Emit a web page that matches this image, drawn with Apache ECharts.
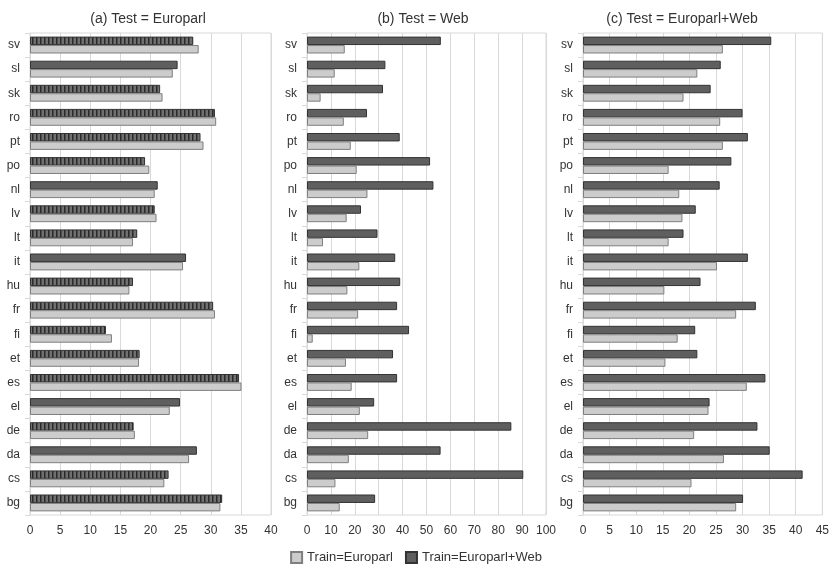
<!DOCTYPE html>
<html>
<head>
<meta charset="utf-8">
<script src="https://cdn.jsdelivr.net/npm/echarts@6/dist/echarts.min.js"></script>
<style>
  html, body { margin: 0; padding: 0; background: #fff; }
  #chart { width: 832px; height: 571px; }
</style>
</head>
<body>
<div id="chart"></div>
<script>
// Languages, listed bottom to top
var languages = ['bg','cs','da','de','el','es','et','fi','fr','hu','it','lt','lv','nl','po','pt','ro','sk','sl','sv'];

var seriesNames = ['Train=Europarl', 'Train=Europarl+Web'];
var panelTitles = ['(a) Test = Europarl', '(b) Test = Web', '(c) Test = Europarl+Web'];

// (a) Test = Europarl
var europarlTrainEuroparl = [31.6, 22.3, 26.4, 17.4, 23.2, 35.1, 18.1, 13.6, 30.7, 16.5, 25.4, 17.1, 21.0, 20.7, 19.8, 28.8, 30.9, 22.0, 23.7, 28.0];
var europarlTrainBoth     = [31.9, 23.0, 27.7, 17.2, 24.9, 34.7, 18.2, 12.6, 30.4, 17.1, 25.9, 17.8, 20.7, 21.2, 19.1, 28.3, 30.7, 21.6, 24.5, 27.1];
// hatched bars in panel (a): 1 = hatched, 0 = plain
var europarlHatched       = [1, 1, 0, 1, 0, 1, 1, 1, 1, 1, 0, 1, 1, 0, 1, 1, 1, 1, 0, 1];

// (b) Test = Web
var webTrainEuroparl = [13.7, 11.9, 17.5, 25.6, 22.1, 18.7, 16.3, 2.4, 21.4, 16.9, 21.9, 6.7, 16.6, 25.3, 20.8, 18.3, 15.4, 5.7, 11.6, 15.8];
var webTrainBoth     = [28.5, 90.5, 55.9, 85.5, 28.1, 37.7, 36.0, 42.7, 37.7, 39.0, 36.9, 29.5, 22.6, 52.9, 51.5, 38.8, 25.1, 31.8, 32.8, 56.0];

// (c) Test = Europarl+Web
var bothTrainEuroparl = [28.8, 20.4, 26.5, 20.9, 23.6, 30.8, 15.5, 17.8, 28.8, 15.3, 25.2, 16.1, 18.7, 18.1, 16.1, 26.3, 25.8, 18.9, 21.5, 26.3];
var bothTrainBoth     = [30.1, 41.3, 35.1, 32.8, 23.8, 34.3, 21.5, 21.1, 32.5, 22.1, 31.0, 18.9, 21.2, 25.7, 27.9, 31.0, 30.0, 24.0, 25.9, 35.4];

// x-axis ranges per panel
var axisMax      = [40, 100, 45];
var axisInterval = [5, 10, 5];

var FONT = 'Liberation Sans, Arial, sans-serif';
var TEXT = '#333333';
var GRIDLINE = '#d9d9d9';

var lightStyle = { color: '#cccccc', borderColor: '#7f7f7f', borderWidth: 1 };
var darkStyle  = { color: '#5f5f5f', borderColor: '#333333', borderWidth: 1 };

// vertical-stripe fill used for the hatched bars
function makeStripes() {
  var c = document.createElement('canvas');
  c.width = 4; c.height = 4;
  var g = c.getContext('2d');
  g.fillStyle = '#707070';
  g.fillRect(0, 0, 4, 4);
  g.fillStyle = '#2a2a2a';
  g.fillRect(0, 0, 1.5, 4);
  return c;
}
var stripeFill = { image: makeStripes(), repeat: 'repeat' };

var grids = [
  { left: 30,  width: 241, top: 33, height: 482, show: true, borderColor: GRIDLINE, borderWidth: 1 },
  { left: 307, width: 239, top: 33, height: 482, show: true, borderColor: GRIDLINE, borderWidth: 1 },
  { left: 583, width: 241, top: 33, height: 482, show: true, borderColor: GRIDLINE, borderWidth: 1 }
];

var xAxes = [], yAxes = [];
for (var i = 0; i < 3; i++) {
  xAxes.push({
    type: 'value', gridIndex: i, min: 0, max: axisMax[i], interval: axisInterval[i],
    axisLine: { show: false }, axisTick: { show: false },
    axisLabel: { color: TEXT, fontFamily: FONT, fontSize: 12, margin: 10 },
    splitLine: { show: true, lineStyle: { color: GRIDLINE, width: 1 } }
  });
  yAxes.push({
    type: 'category', gridIndex: i, data: languages,
    axisLine: { show: false },
    axisTick: { show: true, length: 5, lineStyle: { color: GRIDLINE } },
    axisLabel: { color: TEXT, fontFamily: FONT, fontSize: 12, margin: 10 },
    splitLine: { show: false }
  });
}

function barSeries(name, axisIdx, values, style, hatchFlags) {
  var data = values.map(function (v, k) {
    if (hatchFlags && hatchFlags[k]) {
      return { value: v, itemStyle: { color: stripeFill } };
    }
    return v;
  });
  return {
    name: name, type: 'bar', xAxisIndex: axisIdx, yAxisIndex: axisIdx,
    data: data, itemStyle: style,
    barGap: '0%', barCategoryGap: '30%',
    silent: true, animation: false
  };
}

// Within each category the first series is drawn uppermost, so the
// dark bars are listed first and the light bars second.
var series = [
  barSeries(seriesNames[1], 0, europarlTrainBoth, darkStyle, europarlHatched),
  barSeries(seriesNames[0], 0, europarlTrainEuroparl, lightStyle),
  barSeries(seriesNames[1], 1, webTrainBoth, darkStyle),
  barSeries(seriesNames[0], 1, webTrainEuroparl, lightStyle),
  barSeries(seriesNames[1], 2, bothTrainBoth, darkStyle),
  barSeries(seriesNames[0], 2, bothTrainEuroparl, lightStyle)
];

var titleCenters = [143, 418, 677];
var titles = panelTitles.map(function (t, i) {
  return {
    text: t, left: titleCenters[i], top: 7, textAlign: 'center',
    textStyle: { color: TEXT, fontFamily: FONT, fontSize: 14, fontWeight: 'normal' }
  };
});

var chart = echarts.init(document.getElementById('chart'), null, { renderer: 'canvas' });
chart.setOption({
  backgroundColor: '#ffffff',
  animation: false,
  title: titles,
  legend: {
    data: seriesNames,
    bottom: 2, left: 'center',
    icon: 'rect', itemWidth: 11, itemHeight: 11, itemGap: 12,
    textStyle: { color: TEXT, fontFamily: FONT, fontSize: 13 }
  },
  grid: grids,
  xAxis: xAxes,
  yAxis: yAxes,
  series: series
});
</script>
</body>
</html>
